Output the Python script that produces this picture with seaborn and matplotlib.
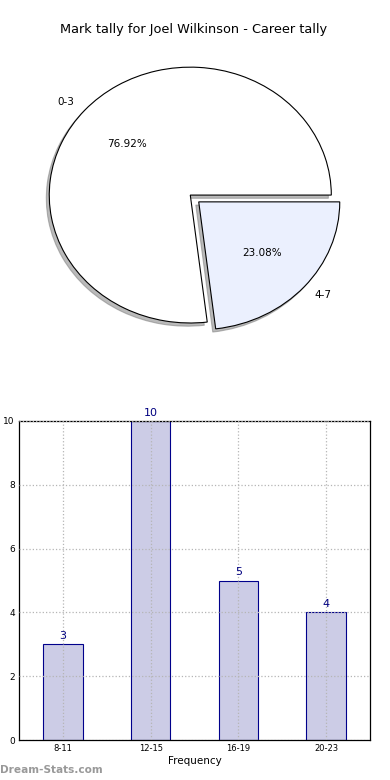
import numpy as np
import pandas as pd
import matplotlib
matplotlib.use("Agg")
import matplotlib.pyplot as plt
import seaborn as sns

# pie data
pie_labels = ["0-3", "4-7"]
pie_values = [76.92, 23.08]
pie_colors = ["#ffffff", "#ebf0fe"]

# bar data
bins = ["8-11", "12-15", "16-19", "20-23"]
counts = [3, 10, 5, 4]

sns.set_style("white")
plt.rcParams['font.family'] = ['DejaVu Sans']
plt.rcParams['text.color'] = 'black'
plt.rcParams['axes.labelcolor'] = 'black'
plt.rcParams['xtick.color'] = 'black'
plt.rcParams['ytick.color'] = 'black'

fig = plt.figure(figsize=(3.9, 7.8), dpi=100)

# pie chart (stretched, like the old matplotlib output)
ax1 = fig.add_axes([14 / 390, 0.5449, 0.904, 0.410])
wedges, texts, autotexts = ax1.pie(pie_values, labels=pie_labels, colors=pie_colors,
                                   explode=[0, 0.08], autopct='%1.2f%%',
                                   shadow={'ox': -0.015, 'oy': -0.018, 'color': '#777777', 'shade': 0},
                                   startangle=0, textprops={'fontsize': 7.5},
                                   wedgeprops={'edgecolor': 'black', 'linewidth': 0.8})
ax1.set_aspect('auto')
ax1.set_xlim(-1.25, 1.25)
ax1.set_ylim(-1.25, 1.25)
fig.text(0.5 - 1 / 390, 1 - 30 / 780, "Mark tally for Joel Wilkinson - Career tally",
         ha='center', va='center', fontsize=9.25)

# bar chart
ax2 = fig.add_axes([19 / 390, 40 / 780, 351 / 390, 319 / 780])
df = pd.DataFrame({"bin": bins, "count": counts})
sns.barplot(data=df, x="bin", y="count", ax=ax2, width=0.45,
            color="#ccccE6", edgecolor="#00008b", linewidth=0.8, saturation=1)
for i, c in enumerate(counts):
    ax2.text(i, c + 0.1, str(c), ha='center', va='bottom', color='#000080', fontsize=8)
ax2.set_ylim(0, 10)
ax2.set_xlim(-0.5, 3.5)
ax2.set_yticks(range(0, 11, 2))
ax2.grid(True, linestyle=':', color='#b5b5b5', linewidth=0.9)
ax2.set_axisbelow(False)
for s in ax2.spines.values():
    s.set_color('black')
    s.set_linewidth(0.9)
ax2.tick_params(axis='both', labelsize=6, length=3, direction='in', pad=3)
ax2.tick_params(axis='y', labelsize=6.5)
ax2.set_xlabel("Frequency", fontsize=7.5, labelpad=2)
ax2.set_ylabel("Goal Mark Tally", fontsize=7.5, labelpad=4)

fig.text(0.001, 10 / 780, "Dream-Stats.com", ha='left', va='center',
         fontsize=7.6, color='#999999', fontweight='bold')

fig.savefig("out.png", dpi=100)
